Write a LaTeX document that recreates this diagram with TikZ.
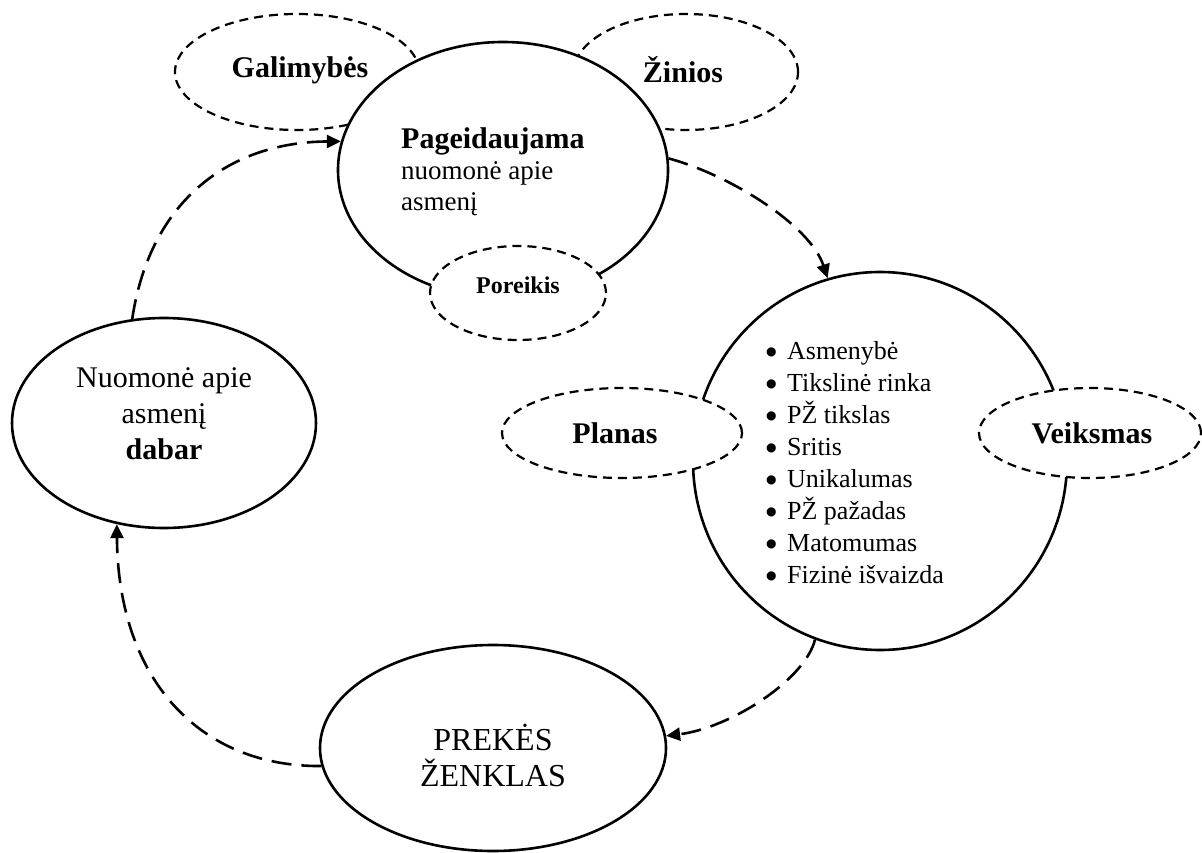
\documentclass[tikz,border=0pt]{standalone}
\usepackage{fontspec}
\setmainfont{Liberation Serif}
\newfontfamily\dotfont{DejaVu Sans}
\usetikzlibrary{shapes.geometric,arrows.meta}
% list bullet: a solid disc set at a small size
\newcommand\listdot{\makebox[21pt][l]{\raisebox{4pt}{\dotfont\fontsize{12}{12}\selectfont ●}}}
\begin{document}
\begin{tikzpicture}[x=1pt,y=-1pt,
  solidoval/.style 2 args={ellipse, draw, fill=white, line width=2.6pt,
    inner sep=0pt, minimum width=#1pt, minimum height=#2pt},
  dashoval/.style 2 args={solidoval={#1}{#2}, line width=2.2pt,
    dash pattern=on 9pt off 6pt},
  flow/.style={line width=2.6pt, dash pattern=on 20pt off 10pt,
    -{Triangle[length=14pt,width=13pt]}},
  lbl/.style={inner sep=0pt, align=center},
  boldlbl/.style={lbl, font=\fontsize{30}{36}\selectfont\bfseries},
]
\useasboundingbox (0,0) rectangle (1202,853);

% satellite and main ovals, back to front
\node[dashoval={244}{116}] (gal) at (297,72) {};
\node[dashoval={224}{116}] (zin) at (686,72) {};
\node[solidoval={330}{256}] (pag) at (503,170) {};
\node[dashoval={176}{94}] (por) at (518,293) {};
\node[solidoval={304}{210}] (now) at (164,423) {};
\node[solidoval={374}{378}] (list) at (880,461) {};
\node[dashoval={240}{90}] (plan) at (622,433) {};
\node[dashoval={222}{90}] (act) at (1090,433) {};
\node[solidoval={346}{206}] (brand) at (493,748) {};

% labels
\node[boldlbl] (galT) at (300,70) {Galimybės};
\node[boldlbl] (zinT) at (683,70) {Žinios};
\node[lbl, align=left, anchor=west, font=\fontsize{27}{31}\selectfont] (pagT) at (401,172)
  {{\fontsize{30}{31}\selectfont\bfseries Pageidaujama}\\nuomonė apie\\asmenį};
\node[lbl, font=\fontsize{24}{28}\selectfont\bfseries] (porT) at (518,285) {Poreikis};
\node[lbl, font=\fontsize{30}{36}\selectfont] (nowT) at (164,414)
  {Nuomonė apie\\asmenį\\\textbf{dabar}};
\node[lbl, align=left, font=\fontsize{26}{32}\selectfont] (listT) at (855,463)
  {\listdot Asmenybė\\
   \listdot Tikslinė rinka\\
   \listdot PŽ tikslas\\
   \listdot Sritis\\
   \listdot Unikalumas\\
   \listdot PŽ pažadas\\
   \listdot Matomumas\\
   \listdot Fizinė išvaizda};
\node[boldlbl] (planT) at (615,433) {Planas};
\node[boldlbl] (actT) at (1092,433) {Veiksmas};
\node[lbl, font=\fontsize{32}{36}\selectfont] (brandT) at (493,755) {PREKĖS\\ŽENKLAS};

% cycle of dashed arrows
\draw[flow] (now.107) .. controls (150,200) and (230,142) .. (pag.170);
\draw[flow] (pag.4) .. controls (730,175) and (810,225) .. (list.106);
\draw[flow] (list.250) .. controls (805,680) and (730,728) .. (brand.4);
\draw[flow] (brand.186) .. controls (200,767) and (118,680) .. (now.245);
\end{tikzpicture}
\end{document}
